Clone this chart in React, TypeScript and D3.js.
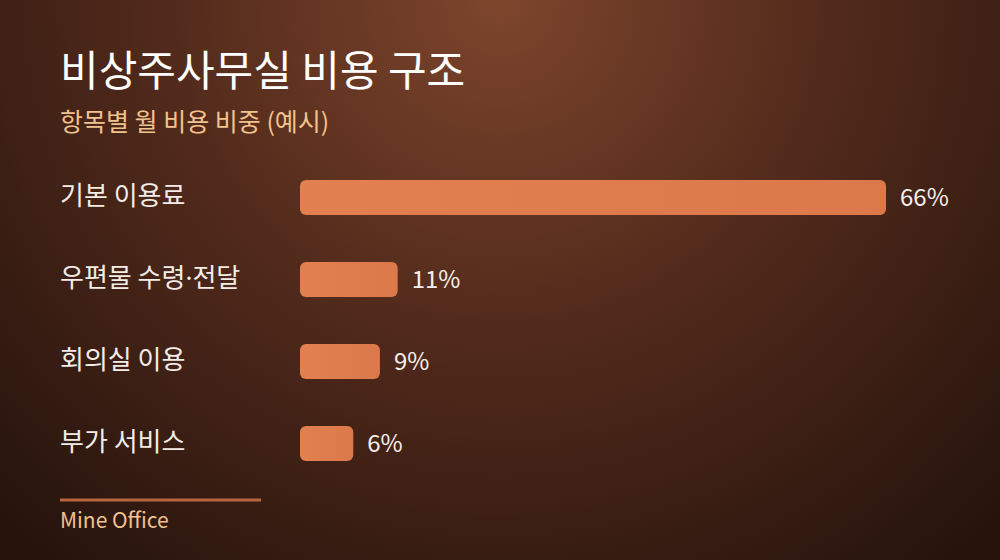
import React, { useEffect, useRef } from 'react';
import * as d3 from 'd3';

const categories = ['기본 이용료', '우편물 수령·전달', '회의실 이용', '부가 서비스'];
const shares = [66, 11, 9, 6];

const title = '비상주사무실 비용 구조';
const subtitle = '항목별 월 비용 비중 (예시)';
const source = 'Mine Office';

const width = 1000;
const height = 560;
const FONT = '"Noto Sans CJK KR", "Noto Sans", sans-serif';

const App: React.FC = () => {
  const svgRef = useRef<SVGSVGElement>(null);

  useEffect(() => {
    if (!svgRef.current) return;
    const svg = d3.select(svgRef.current);
    svg.selectAll('*').remove();

    // Background gradient
    const defs = svg.append('defs');
    const grad = defs
      .append('radialGradient')
      .attr('id', 'bg')
      .attr('gradientUnits', 'userSpaceOnUse')
      .attr('cx', 500)
      .attr('cy', 0)
      .attr('r', 720);
    grad.append('stop').attr('offset', '0%').attr('stop-color', '#7d452c');
    grad.append('stop').attr('offset', '45%').attr('stop-color', '#532b1c');
    grad.append('stop').attr('offset', '100%').attr('stop-color', '#25130c');

    // subtle horizontal shading on bars
    const barGrad = defs
      .append('linearGradient')
      .attr('id', 'barFill')
      .attr('x1', '0%')
      .attr('x2', '100%');
    barGrad.append('stop').attr('offset', '0%').attr('stop-color', '#e2804f');
    barGrad.append('stop').attr('offset', '100%').attr('stop-color', '#dc794b');

    svg.append('rect').attr('width', width).attr('height', height).attr('fill', 'url(#bg)');

    // Titles
    svg
      .append('text')
      .attr('x', 60)
      .attr('y', 86)
      .attr('fill', '#ffffff')
      .style('font-family', FONT)
      .style('font-size', '42px')
      .style('font-weight', 400)
      .text(title);

    svg
      .append('text')
      .attr('x', 60)
      .attr('y', 131)
      .attr('fill', '#f2c28f')
      .style('font-family', FONT)
      .style('font-size', '25px')
      .style('font-weight', 400)
      .text(subtitle);

    // Scales
    const x = d3.scaleLinear().domain([0, d3.max(shares) || 0]).range([300, 886]);
    const y = d3
      .scaleBand()
      .domain(categories)
      .range([180, 461])
      .paddingInner(0.573)
      .paddingOuter(0);

    const rows = svg
      .append('g')
      .selectAll('g')
      .data(categories)
      .enter()
      .append('g');

    // category labels; the middle dot is drawn in a Latin font so it stays narrow
    const labels = rows
      .append('text')
      .attr('x', 60)
      .attr('y', d => (y(d) || 0) + y.bandwidth() / 2)
      .attr('dy', '0.3em')
      .attr('fill', '#f4ece6')
      .style('font-family', FONT)
      .style('font-size', '26px')
      .style('font-weight', 400);

    labels.each(function (d) {
      const t = d3.select(this);
      d.split(/(·)/).forEach(part => {
        if (!part) return;
        const span = t.append('tspan').text(part);
        if (part === '·') span.style('font-family', '"Noto Sans", sans-serif');
      });
    });

    rows
      .append('rect')
      .attr('x', x(0))
      .attr('y', d => y(d) || 0)
      .attr('width', (d, i) => x(shares[i]) - x(0))
      .attr('height', y.bandwidth())
      .attr('rx', 6)
      .attr('fill', 'url(#barFill)');

    rows
      .append('text')
      .attr('x', (d, i) => x(shares[i]) + 14)
      .attr('y', d => (y(d) || 0) + y.bandwidth() / 2)
      .attr('dy', '0.35em')
      .attr('fill', '#f7efe9')
      .style('font-family', FONT)
      .style('font-size', '24px')
      .style('font-weight', 400)
      .text((d, i) => `${shares[i]}%`);

    // Footer
    svg
      .append('line')
      .attr('x1', 60)
      .attr('x2', 261)
      .attr('y1', 500)
      .attr('y2', 500)
      .attr('stroke', '#b8643e')
      .attr('stroke-width', 3);

    svg
      .append('text')
      .attr('x', 60)
      .attr('y', 528)
      .attr('fill', '#f2c28f')
      .style('font-family', FONT)
      .style('font-size', '21px')
      .style('font-weight', 400)
      .text(source);
  }, []);

  return (
    <svg
      ref={svgRef}
      width={width}
      height={height}
      style={{ display: 'block', position: 'absolute', left: 0, top: 0 }}
    />
  );
};

export default App;
